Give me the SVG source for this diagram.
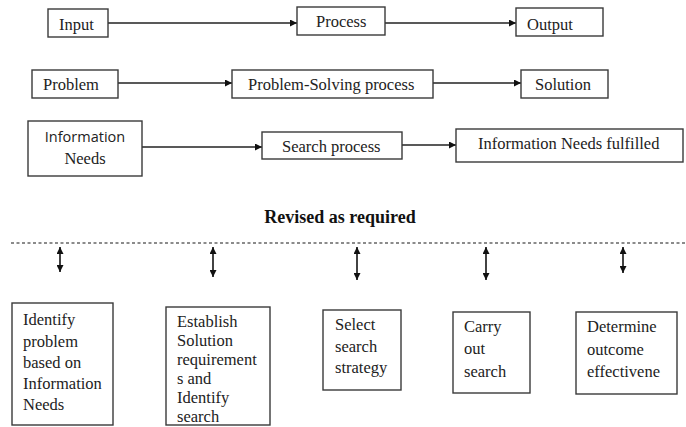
<svg xmlns="http://www.w3.org/2000/svg" width="686" height="427" viewBox="0 0 686 427">
<defs>
<marker id="ah" viewBox="0 0 10 10" refX="10" refY="5" markerWidth="8" markerHeight="7" markerUnits="userSpaceOnUse" orient="auto-start-reverse">
<path d="M0,0 L10,5 L0,10 z" fill="#111"/>
</marker>
<marker id="ah2" viewBox="0 0 10 10" refX="10" refY="5" markerWidth="7" markerHeight="7" markerUnits="userSpaceOnUse" orient="auto-start-reverse">
<path d="M0,0 L10,5 L0,10 z" fill="#111"/>
</marker>
<style>
.box{fill:#fff;stroke:#3a3a3a;stroke-width:1.4}
.t{font-family:"Liberation Serif","Times New Roman",serif;font-size:16.5px;fill:#222}
.s{font-family:"Open Sans","Liberation Sans",sans-serif;font-size:14.5px;fill:#222}
.b{font-family:"Liberation Serif","Times New Roman",serif;font-size:18px;font-weight:bold;fill:#111}
.c{stroke:#222;stroke-width:1.7;fill:none}
.arr{marker-end:url(#ah)}
.dbl{marker-start:url(#ah2);marker-end:url(#ah2)}
.dash{stroke:#666;stroke-width:1.3;stroke-dasharray:3 2.5}
</style>
</defs>
<rect width="686" height="427" fill="#fff"/>
<g id="connectors">
<line class="c arr" x1="108" y1="23" x2="297" y2="23"/>
<line class="c arr" x1="385" y1="23" x2="516" y2="23"/>
<line class="c arr" x1="118" y1="83" x2="232" y2="83"/>
<line class="c arr" x1="433" y1="83" x2="521" y2="83"/>
<line class="c arr" x1="142" y1="147" x2="262" y2="147"/>
<line class="c arr" x1="402" y1="145" x2="456" y2="145"/>
<line class="dash" x1="11" y1="243" x2="686" y2="243"/>
<line class="c dbl" x1="60" y1="247" x2="60" y2="272"/>
<line class="c dbl" x1="213" y1="247" x2="213" y2="277"/>
<line class="c dbl" x1="357" y1="247" x2="357" y2="280"/>
<line class="c dbl" x1="486" y1="247" x2="486" y2="280"/>
<line class="c dbl" x1="623" y1="247" x2="623" y2="273"/>
</g>
<g id="input"><rect class="box" x="48" y="9" width="60" height="28"/><text class="t" x="59" y="30">Input</text></g>
<g id="process"><rect class="box" x="297" y="7" width="88" height="28"/><text class="t" x="316" y="27">Process</text></g>
<g id="output"><rect class="box" x="516" y="8" width="87" height="28"/><text class="t" x="527" y="30">Output</text></g>
<g id="problem"><rect class="box" x="32" y="70" width="86" height="28"/><text class="t" x="43" y="90">Problem</text></g>
<g id="psp"><rect class="box" x="232" y="70" width="201" height="28"/><text class="t" x="248" y="90">Problem-Solving process</text></g>
<g id="solution"><rect class="box" x="521" y="70" width="87" height="28"/><text class="t" x="535" y="90">Solution</text></g>
<g id="infoneeds"><rect class="box" x="28" y="121" width="114" height="55"/><text class="s" x="85" y="142" text-anchor="middle">Information</text><text class="t" x="85" y="164" text-anchor="middle">Needs</text></g>
<g id="search"><rect class="box" x="262" y="132" width="140" height="27"/><text class="t" x="282" y="152">Search process</text></g>
<g id="fulfilled"><rect class="box" x="456" y="129" width="227" height="33"/><text class="t" x="478" y="149">Information Needs fulfilled</text></g>
<g id="revised"><text class="b" x="340" y="223" text-anchor="middle">Revised as required</text></g>
<g id="step1"><rect class="box" x="12" y="303" width="101" height="122"/>
<text class="t" x="23" y="325">Identify</text><text class="t" x="23" y="347">problem</text><text class="t" x="23" y="368">based on</text><text class="t" x="23" y="389">Information</text><text class="t" x="23" y="410">Needs</text></g>
<g id="step2"><rect class="box" x="166" y="307" width="104" height="118"/>
<text class="t" x="177" y="327">Establish</text><text class="t" x="177" y="346">Solution</text><text class="t" x="177" y="365">requirement</text><text class="t" x="177" y="384">s and</text><text class="t" x="177" y="403">Identify</text><text class="t" x="177" y="422">search</text></g>
<g id="step3"><rect class="box" x="323" y="310" width="78" height="80"/>
<text class="t" x="335" y="330">Select</text><text class="t" x="335" y="352">search</text><text class="t" x="335" y="373">strategy</text></g>
<g id="step4"><rect class="box" x="453" y="312" width="77" height="81"/>
<text class="t" x="464" y="332">Carry</text><text class="t" x="464" y="354">out</text><text class="t" x="464" y="377">search</text></g>
<g id="step5"><rect class="box" x="576" y="312" width="101" height="82"/>
<text class="t" x="587" y="332">Determine</text><text class="t" x="587" y="355">outcome</text><text class="t" x="587" y="377">effectivene</text></g>
</svg>
